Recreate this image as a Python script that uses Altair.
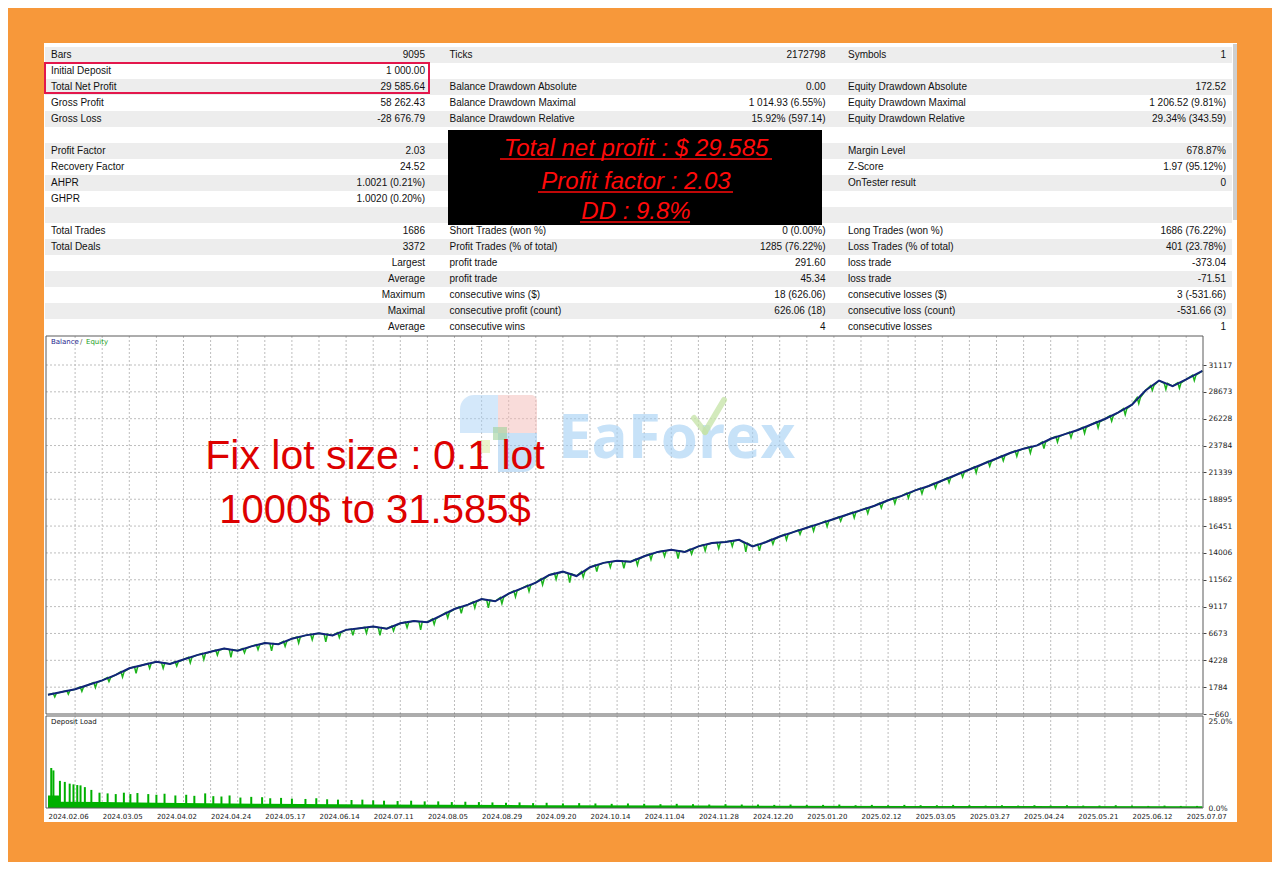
import altair as alt
import numpy as np
import pandas as pd

# ---------------- data ----------------
date_labels = ["2024.02.06", "2024.03.05", "2024.04.02", "2024.04.24", "2024.05.17", "2024.06.14",
               "2024.07.11", "2024.08.05", "2024.08.29", "2024.09.20", "2024.10.14", "2024.11.04",
               "2024.11.28", "2024.12.20", "2025.01.20", "2025.02.12", "2025.03.05", "2025.03.27",
               "2025.04.24", "2025.05.21", "2025.06.12", "2025.07.07"]
y_ticks = [-660, 1784, 4228, 6673, 9117, 11562, 14006, 16451, 18895, 21339, 23784, 26228, 28673, 31117]

bal_slot = [0.0, 0.25, 0.5, 0.75, 1.0, 1.25, 1.5, 1.75, 2.0, 2.25, 2.5, 2.75, 3.0, 3.25, 3.5, 3.75,
            4.0, 4.25, 4.5, 4.75, 5.0, 5.25, 5.5, 5.75, 6.0, 6.25, 6.5, 6.75, 7.0, 7.25, 7.5, 7.75,
            8.0, 8.25, 8.5, 8.75, 9.0, 9.25, 9.5, 9.75, 10.0, 10.25, 10.5, 10.75, 11.0, 11.25, 11.5,
            11.75, 12.0, 12.25, 12.5, 12.75, 13.0, 13.25, 13.5, 13.75, 14.0, 14.25, 14.5, 14.75, 15.0,
            15.25, 15.5, 15.75, 16.0, 16.25, 16.5, 16.75, 17.0, 17.25, 17.5, 17.75, 18.0, 18.25, 18.5,
            18.75, 19.0, 19.25, 19.5, 19.75, 20.0, 20.25, 20.5, 20.75, 21.0, 21.3]
bal_value = [1100, 1350, 1600, 2000, 2400, 2900, 3500, 3800, 4100, 3900, 4300, 4700, 5000, 5300, 5100,
             5500, 5800, 5700, 6200, 6500, 6700, 6500, 7000, 7150, 7300, 7100, 7600, 7800, 7700, 8300,
             8900, 9300, 9800, 9600, 10300, 10800, 11300, 12000, 12300, 11900, 12700, 13100, 13300,
             13200, 13700, 14100, 14300, 14100, 14600, 14900, 15000, 15200, 14600, 15000, 15500, 15900,
             16300, 16700, 17100, 17500, 17900, 18300, 18800, 19200, 19700, 20100, 20600, 21100, 21600,
             22100, 22600, 23100, 23500, 23800, 24400, 24800, 25200, 25700, 26200, 26800, 27500, 28800,
             29700, 29200, 29800, 30585]

# equity low points (floating drawdown spikes)
eq_dip_slot = [0.125, 0.375, 0.625, 0.875, 1.125, 1.375, 1.625, 1.875, 2.125, 2.375, 2.625, 2.875,
               3.125, 3.375, 3.625, 3.875, 4.125, 4.375, 4.625, 4.875, 5.125, 5.375, 5.625, 5.875,
               6.125, 6.375, 6.625, 6.875, 7.125, 7.375, 7.625, 7.875, 8.125, 8.375, 8.625, 8.875,
               9.125, 9.375, 9.625, 9.875, 10.125, 10.375, 10.625, 10.875, 11.125, 11.375, 11.625,
               11.875, 12.125, 12.375, 12.625, 12.875, 13.125, 13.375, 13.625, 13.875, 14.125, 14.375,
               14.625, 14.875, 15.125, 15.375, 15.625, 15.875, 16.125, 16.375, 16.625, 16.875, 17.125,
               17.375, 17.625, 17.875, 18.125, 18.375, 18.625, 18.875, 19.125, 19.375, 19.625, 19.875,
               20.125, 20.375, 20.625, 20.875, 21.15]
eq_dip_value = [900, 1150, 1400, 1750, 2300, 2700, 3050, 3500, 3500, 3700, 4000, 4300, 4700, 4500,
                4900, 5200, 5100, 5500, 5800, 6100, 5900, 6300, 6500, 6700, 6500, 6900, 7200, 7000,
                7500, 8100, 8500, 9000, 9000, 9400, 10000, 10500, 11100, 11600, 11300, 11800, 12300,
                12700, 12600, 12900, 13400, 13700, 13500, 13900, 14200, 14400, 14600, 14100, 14200,
                14800, 15200, 15700, 16000, 16400, 16900, 17200, 17600, 18100, 18500, 19000, 19400,
                19900, 20400, 20900, 21300, 21900, 22400, 22800, 23100, 23500, 24100, 24500, 24900,
                25400, 26000, 26600, 27600, 28800, 28900, 29000, 29700]

load_slot = [0.06, 0.10, 0.22, 0.31, 0.40, 0.47, 0.54, 0.60, 0.68, 0.80, 0.95, 1.10, 1.25, 1.40, 1.52,
             1.65, 1.85, 2.00, 2.15, 2.35, 2.55, 2.70, 2.90, 3.05, 3.20, 3.35, 3.55, 3.75, 3.95, 4.10,
             4.30, 4.50, 4.75, 4.95, 5.15, 5.35, 5.60, 5.80, 6.00, 6.20, 6.45, 6.70, 6.95, 7.20, 7.45,
             7.70, 7.95, 8.20, 8.45, 8.70, 8.95, 9.20, 9.50, 9.80, 10.10, 10.40, 10.70, 11.00, 11.30,
             11.60, 11.90, 12.20, 12.50, 12.80, 13.10, 13.40, 13.70, 14.00, 14.30, 14.60, 14.90, 15.20,
             15.50, 15.80, 16.10, 16.40, 16.70, 17.00, 17.30, 17.60, 17.90, 18.20, 18.50, 18.80, 19.10,
             19.40, 19.70, 20.00, 20.30, 20.60, 20.90, 21.20]
load_pct = [11.5, 10.8, 7.8, 7.5, 7.0, 6.8, 6.6, 6.5, 6.0, 5.2, 4.4, 4.2, 4.0, 4.4, 4.0, 4.3, 4.0, 3.8,
            4.1, 3.6, 3.8, 3.5, 4.2, 3.4, 3.3, 3.6, 3.0, 3.2, 3.1, 2.8, 2.9, 2.7, 2.6, 2.8, 2.5, 2.4,
            2.3, 2.4, 2.2, 2.1, 2.0, 2.1, 1.9, 1.9, 1.7, 1.8, 1.7, 1.6, 1.5, 1.6, 1.4, 1.5, 1.3, 1.4,
            1.3, 1.2, 1.3, 1.2, 1.1, 1.2, 1.1, 1.0, 1.1, 1.0, 1.0, 0.9, 1.0, 0.9, 0.9, 1.0, 0.8, 0.9,
            0.8, 0.9, 0.8, 0.8, 0.9, 0.8, 0.7, 0.8, 0.7, 0.8, 0.7, 0.8, 0.7, 0.7, 0.8, 0.7, 0.6, 0.7,
            0.6, 0.6]
base_slot = [0.0, 0.2, 0.22, 1.0, 2.0, 4.0, 6.0, 9.0, 12.0, 16.0, 21.3]
base_pct = [3.6, 3.6, 1.8, 1.7, 1.5, 1.2, 1.0, 0.8, 0.7, 0.6, 0.5]

col0_labels = ["Bars", "Initial Deposit", "Total Net Profit", "Gross Profit", "Gross Loss", "",
               "Profit Factor", "Recovery Factor", "AHPR", "GHPR", "", "Total Trades", "Total Deals",
               "", "", "", "", ""]
col0_values = ["9095", "1 000.00", "29 585.64", "58 262.43", "-28 676.79", "", "2.03", "24.52",
               "1.0021 (0.21%)", "1.0020 (0.20%)", "", "1686", "3372", "Largest", "Average",
               "Maximum", "Maximal", "Average"]
col1_labels = ["Ticks", "", "Balance Drawdown Absolute", "Balance Drawdown Maximal",
               "Balance Drawdown Relative", "", "", "", "", "", "", "Short Trades (won %)",
               "Profit Trades (% of total)", "profit trade", "profit trade", "consecutive wins ($)",
               "consecutive profit (count)", "consecutive wins"]
col1_values = ["2172798", "", "0.00", "1 014.93 (6.55%)", "15.92% (597.14)", "", "", "", "", "", "",
               "0 (0.00%)", "1285 (76.22%)", "291.60", "45.34", "18 (626.06)", "626.06 (18)", "4"]
col2_labels = ["Symbols", "", "Equity Drawdown Absolute", "Equity Drawdown Maximal",
               "Equity Drawdown Relative", "", "Margin Level", "Z-Score", "OnTester result", "", "",
               "Long Trades (won %)", "Loss Trades (% of total)", "loss trade", "loss trade",
               "consecutive losses ($)", "consecutive loss (count)", "consecutive losses"]
col2_values = ["1", "", "172.52", "1 206.52 (9.81%)", "29.34% (343.59)", "", "678.87%",
               "1.97 (95.12%)", "0", "", "", "1686 (76.22%)", "401 (23.78%)", "-373.04", "-71.51",
               "3 (-531.66)", "-531.66 (3)", "1"]

box_lines = ["Total net profit : $ 29.585", "Profit factor : 2.03", "DD : 9.8%"]
note_lines = ["Fix lot size : 0.1 lot", "1000$ to 31.585$"]

# ---------------- frames ----------------
ONE = pd.DataFrame({"k": [0]})
rows = []
for ci, (labs, vals) in enumerate([(col0_labels, col0_values), (col1_labels, col1_values),
                                   (col2_labels, col2_values)]):
    for ri in range(18):
        rows.append({"row": ri, "col": ci, "label": labs[ri], "value": vals[ri]})
table_df = pd.DataFrame(rows)
band_df = pd.DataFrame({"lo": [r - 0.5 for r in range(0, 18, 2)], "hi": [r + 0.5 for r in range(0, 18, 2)]})
bal_df = pd.DataFrame({"slot": bal_slot, "v": bal_value})

# equity = balance path with narrow downward spikes at the read low points
eq_rows = [{"slot": s, "v": v} for s, v in zip(bal_slot, bal_value)]
for s, v in zip(eq_dip_slot, eq_dip_value):
    level = float(np.interp(s, bal_slot, bal_value))
    eq_rows += [{"slot": s - 0.03, "v": level}, {"slot": s, "v": v}, {"slot": s + 0.03, "v": level}]
eq_df = pd.DataFrame(eq_rows).sort_values("slot")

load_df = pd.DataFrame({"slot": load_slot, "pct": load_pct})
base_df = pd.DataFrame({"slot": base_slot, "pct": base_pct})
hgrid_df = pd.DataFrame({"v": y_ticks[1:]})
vgrid_df = pd.DataFrame({"slot": [k / 2 for k in range(1, 43)]})

FONT_T = "Liberation Sans"
FONT_C = "DejaVu Sans"


def xs():
    return alt.Scale(domain=[-0.0369, 21.31], range=[38, 1195], nice=False, zero=False)


def ys():
    return alt.Scale(domain=[-660, 31117], range=[706, 357], nice=False, zero=False)


def ls():
    return alt.Scale(domain=[0, 25], range=[800, 713], nice=False, zero=False)


def trow():
    return alt.Scale(domain=[0, 17], range=[47, 319], nice=False, zero=False)


def vrect(x, x2, y, y2, **kw):
    return alt.Chart(ONE).mark_rect(**kw).encode(
        x=alt.value(x), x2=alt.value(x2), y=alt.value(y), y2=alt.value(y2))


def vtext(txt, x, y, **kw):
    return alt.Chart(pd.DataFrame({"t": [txt]})).mark_text(**kw).encode(
        x=alt.value(x), y=alt.value(y), text="t:N")


def vrule(x, x2, y, y2, **kw):
    return alt.Chart(ONE).mark_rule(**kw).encode(
        x=alt.value(x), x2=alt.value(x2), y=alt.value(y), y2=alt.value(y2))


layers = []
# white panel
layers.append(vrect(36, 1229, 35, 814, color="white"))
# table bands
layers.append(alt.Chart(band_df).mark_rect(color="#EDEDED").encode(
    x=alt.value(37), x2=alt.value(1224),
    y=alt.Y("lo:Q", scale=trow(), axis=None), y2="hi:Q"))
# scrollbar
layers.append(vrect(1225, 1229, 36, 212, color="#CFCFCF"))
# table texts
layers.append(alt.Chart(table_df).mark_text(align="left", baseline="middle", font=FONT_T,
                                            fontSize=10, color="#111111").encode(
    x=alt.X("col:Q", scale=alt.Scale(domain=[0, 2], range=[43, 840], nice=False, zero=False), axis=None),
    y=alt.Y("row:Q", scale=trow(), axis=None), text="label:N"))
layers.append(alt.Chart(table_df).mark_text(align="right", baseline="middle", font=FONT_T,
                                            fontSize=10, color="#111111").encode(
    x=alt.X("col:Q", scale=alt.Scale(domain=[0, 2], range=[417, 1218], nice=False, zero=False), axis=None),
    y=alt.Y("row:Q", scale=trow(), axis=None), text="value:N"))
# highlight box
layers.append(vrect(37, 421, 55, 85, fillOpacity=0, stroke="#E3174C", strokeWidth=2))
# black box with red text
layers.append(vrect(440, 814, 122, 217, color="black"))
for txt, yc, yu, xl, xr in [(box_lines[0], 141, 151, 492, 764), (box_lines[1], 174, 184, 530, 725),
                            (box_lines[2], 204, 214, 572, 682)]:
    layers.append(vtext(txt, 628, yc, align="center", baseline="middle", font=FONT_T, fontSize=24,
                        fontStyle="italic", color="#FF0A0A"))
    layers.append(vrule(xl, xr, yu, yu, color="#FF0A0A", strokeWidth=1.5))

# grid
layers.append(alt.Chart(hgrid_df).mark_rule(color="#BDBDBD", strokeDash=[2, 2], strokeWidth=1).encode(
    y=alt.Y("v:Q", scale=ys(), axis=None), x=alt.value(38), x2=alt.value(1195)))
layers.append(alt.Chart(vgrid_df).mark_rule(color="#BDBDBD", strokeDash=[2, 2], strokeWidth=1).encode(
    x=alt.X("slot:Q", scale=xs(), axis=None), y=alt.value(328), y2=alt.value(706)))
layers.append(alt.Chart(vgrid_df).mark_rule(color="#BDBDBD", strokeDash=[2, 2], strokeWidth=1).encode(
    x=alt.X("slot:Q", scale=xs(), axis=None), y=alt.value(708), y2=alt.value(800)))

# watermark (logo + word)
layers.append(vrect(452, 490, 387, 425, color="#A9D1F5", opacity=0.5, cornerRadiusTopLeft=14))
layers.append(vrect(490, 529, 387, 425, color="#F4B9B6", opacity=0.5, cornerRadiusTopRight=6))
layers.append(vrect(490, 529, 425, 464, color="#92C3F0", opacity=0.5, cornerRadiusBottomRight=14))
layers.append(vrect(485, 499, 419, 432, color="#9ED19A", opacity=0.6))
layers.append(vrect(469, 482, 432, 445, color="#E2F0B5", opacity=0.7))
layers.append(vtext("EaForex", 550, 450, align="left", baseline="alphabetic", font="Open Sans",
                    fontSize=60, fontWeight="bold", color="#A3CFF4", opacity=0.6))
layers.append(vrule(686, 697, 410, 424, color="#C4E3A6", strokeWidth=6, opacity=0.75, strokeCap="round"))
layers.append(vrule(697, 716, 424, 392, color="#C4E3A6", strokeWidth=6, opacity=0.75, strokeCap="round"))

# equity & balance
layers.append(alt.Chart(eq_df).mark_line(color="#1DB31D", strokeWidth=1.5).encode(
    x=alt.X("slot:Q", scale=xs(), axis=None), y=alt.Y("v:Q", scale=ys(), axis=None)))
layers.append(alt.Chart(bal_df).mark_line(color="#12237A", strokeWidth=2).encode(
    x=alt.X("slot:Q", scale=xs(), axis=None),
    y=alt.Y("v:Q", scale=ys(), axis=alt.Axis(
        orient="right", offset=-69, values=y_ticks, format="d", title="", domain=False, grid=False,
        ticks=True, tickSize=3, tickColor="#444444", labelPadding=2, labelAlign="left",
        labelFont=FONT_C, labelFontSize=7.5, labelColor="#222222", labelOverlap=False, zindex=2))))

# deposit load
layers.append(alt.Chart(base_df).mark_area(color="#00B000").encode(
    x=alt.X("slot:Q", scale=xs(), axis=None), y=alt.Y("pct:Q", scale=ls(), axis=None)))
date_expr = "[" + ",".join("'" + d + "'" for d in date_labels) + "][datum.value]"
layers.append(alt.Chart(load_df).mark_rule(color="#00B000", strokeWidth=2).encode(
    x=alt.X("slot:Q", scale=xs(), axis=alt.Axis(
        orient="bottom", offset=-54, values=list(range(22)), labelExpr=date_expr, title="",
        labelAlign="left", labelFlush=False, ticks=False, domain=False, grid=False,
        labelPadding=4, labelFont=FONT_C, labelFontSize=7, labelColor="#222222", labelOverlap=False,
        zindex=2)),
    y=alt.Y("pct:Q", scale=ls(), axis=alt.Axis(
        orient="right", offset=-69, values=[0, 25], labelExpr="format(datum.value, '.1f') + '%'",
        title="", domain=False, grid=False, ticks=False, labelPadding=5, labelAlign="left",
        labelFont=FONT_C, labelFontSize=7.5, labelColor="#222222", zindex=2)),
    y2=alt.datum(0)))

# frames
layers.append(vrect(38, 1195, 328, 706, fillOpacity=0, stroke="#5A5A5A", strokeWidth=1))
layers.append(vrect(38, 1195, 708, 800, fillOpacity=0, stroke="#5A5A5A", strokeWidth=1))

# legend labels
layers.append(vtext("Balance", 43, 334, align="left", baseline="middle", font=FONT_C, fontSize=7,
                    color="#1A1A8C"))
layers.append(vtext("/", 72, 334, align="left", baseline="middle", font=FONT_C, fontSize=7,
                    color="#555555"))
layers.append(vtext("Equity", 78, 334, align="left", baseline="middle", font=FONT_C, fontSize=7,
                    color="#1DA01D"))
layers.append(vtext("Deposit Load", 43, 714, align="left", baseline="middle", font=FONT_C,
                    fontSize=7, color="#111111"))

# red notes
layers.append(vtext(note_lines[0], 367, 449, align="center", baseline="middle", font=FONT_T,
                    fontSize=41, color="#DD0000"))
layers.append(vtext(note_lines[1], 367, 503, align="center", baseline="middle", font=FONT_T,
                    fontSize=40, color="#DD0000"))

chart = alt.layer(*layers).resolve_scale(x="independent", y="independent").properties(
    width=1264, height=854, padding=0, autosize=alt.AutoSizeParams(type="none"),
    background="#F7983A").configure_view(stroke=None)

chart.save("out.html", embed_options={"renderer": "svg", "actions": False})
